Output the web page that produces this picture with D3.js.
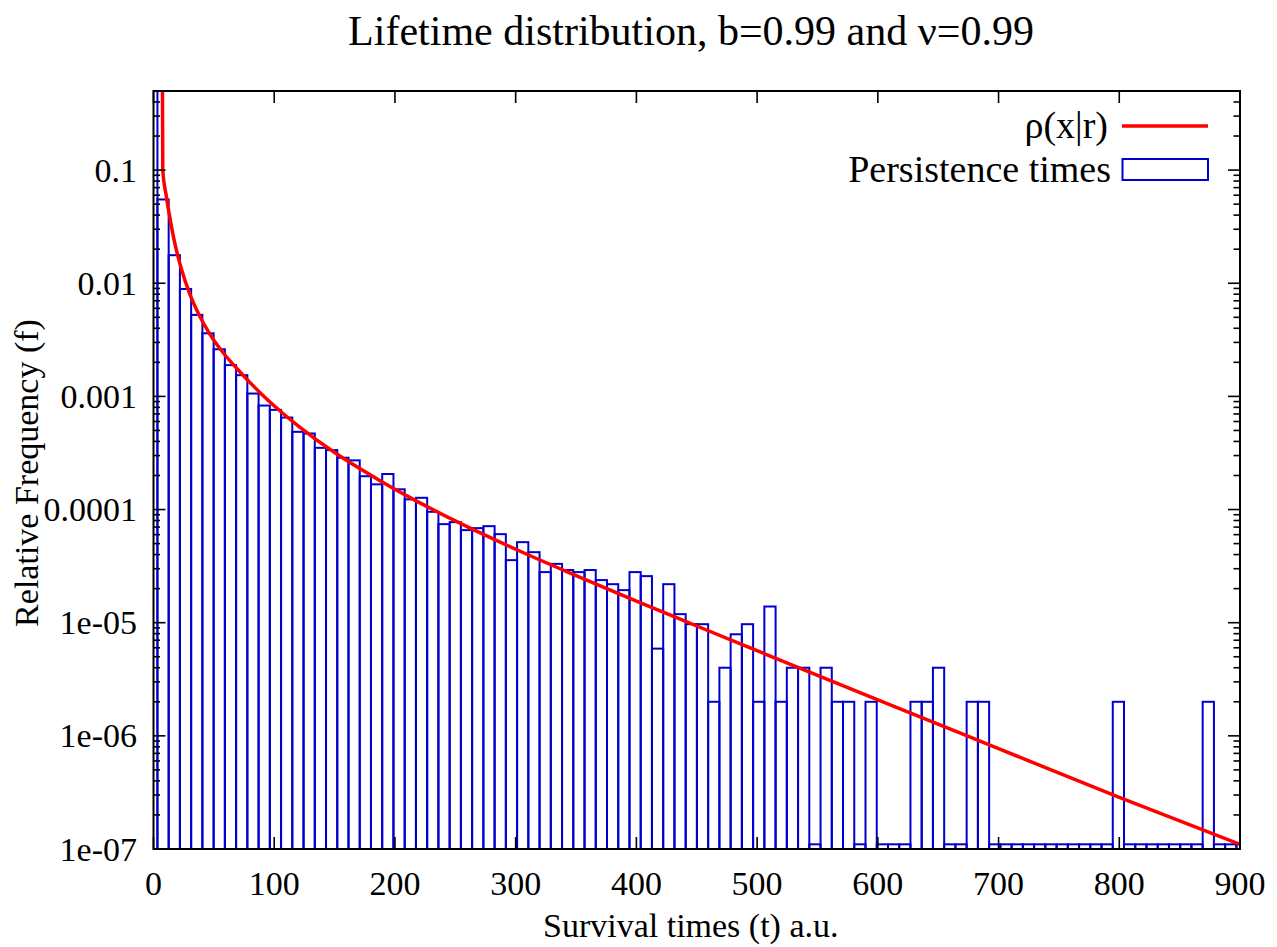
<!DOCTYPE html>
<html>
<head>
<meta charset="utf-8">
<script src="https://cdn.jsdelivr.net/npm/d3@7"></script>
<style>
  html, body { margin: 0; padding: 0; background: #fff; }
  svg { display: block; }
  text { font-family: "Liberation Serif", "Times New Roman", serif; fill: #000; }
</style>
</head>
<body>
<svg id="chart" width="1277" height="947"></svg>
<script>
// ---------------- data ----------------
const titleText = "Lifetime distribution, b=0.99 and \u03bd=0.99";
const xLabelText = "Survival times (t) a.u.";
const yLabelText = "Relative Frequency (f)";
const seriesNames = ["\u03c1(x|r)", "Persistence times"];

const xTicks = [0, 100, 200, 300, 400, 500, 600, 700, 800, 900];
const yTicks = [1e-7, 1e-6, 1e-5, 1e-4, 1e-3, 1e-2, 1e-1];
const yTickLabels = ["1e-07", "1e-06", "1e-05", "0.0001", "0.001", "0.01", "0.1"];

// histogram: bin width and centre of the first bin (survival time units)
const binWidth = 9.31;
const firstBinCenter = -1.4;
// relative frequency of each bin
const histValues = [
  0.9, 0.055, 0.0177, 0.0089, 0.00525, 0.00361, 0.00261, 0.00189, 0.00154, 0.00106,
  0.00083, 0.00076, 0.00065, 0.000486, 0.00047, 0.000351, 0.000335, 0.000287, 0.000272, 0.000197,
  0.000167, 0.000206, 0.000151, 0.000123, 0.000127, 0.0000955, 0.0000743, 0.0000774, 0.0000658, 0.0000685,
  0.0000713, 0.0000606, 0.0000357, 0.0000515, 0.000042, 0.000028, 0.0000331, 0.0000292, 0.000028, 0.0000292,
  0.0000238, 0.0000219, 0.0000194, 0.000028, 0.0000258, 0.0000059, 0.0000219, 0.0000119, 0.0000097, 0.0000097,
  0.000002, 0.000004, 0.0000079, 0.0000097, 0.000002, 0.0000139, 0.000002, 0.000004, 0.000004, 1.1e-7,
  0.000004, 0.000002, 0.000002, 1.1e-7, 0.000002, 1.1e-7, 1.1e-7, 1.1e-7, 0.000002, 0.000002,
  0.000004, 1.1e-7, 1.1e-7, 0.000002, 0.000002, 1.1e-7, 1.1e-7, 1.1e-7, 1.1e-7, 1.1e-7,
  1.1e-7, 1.1e-7, 1.1e-7, 1.1e-7, 1.1e-7, 1.1e-7, 0.000002, 1.1e-7, 1.1e-7, 1.1e-7,
  1.1e-7, 1.1e-7, 1.1e-7, 1.1e-7, 0.000002, 1.1e-7, 1.1e-7, 1.1e-7
];

// fitted density rho(x|r)
const curveX = [7.3, 7.7, 10.5, 14.7, 17.4, 23.0, 29.8, 38.1, 46.4, 57.4,
  71.3, 88.3, 104.4, 120, 150, 187.3, 214.9, 250, 300, 350,
  400, 450, 500, 600, 700, 800, 900];
const curveY = [1.0, 0.1, 0.0598, 0.0325, 0.0232, 0.01349, 0.00817, 0.00516, 0.00359, 0.002455,
  0.00166, 0.001079, 0.00075, 0.000547, 0.000319, 0.000181, 0.0001236, 0.0000793, 0.0000446, 0.0000261,
  0.0000155, 0.00000935, 0.00000566, 0.00000208, 7.71e-7, 2.86e-7, 1.1e-7];

// ---------------- layout ----------------
const plot = { left: 153.5, right: 1240, top: 91, bottom: 849 };
const svg = d3.select("#chart");

const x = d3.scaleLinear().domain([0, 900]).range([plot.left, plot.right]);
const y = d3.scaleLog().domain([1e-7, 0.5]).range([plot.bottom, plot.top]);

const blue = "#0000cc";
const red = "#ff0000";
const labelFont = 34;

svg.append("defs").append("clipPath").attr("id", "clip")
  .append("rect")
  .attr("x", plot.left).attr("y", plot.top)
  .attr("width", plot.right - plot.left).attr("height", plot.bottom - plot.top);

const plotG = svg.append("g").attr("clip-path", "url(#clip)");

// histogram boxes
const bins = histValues.map((v, i) => ({ c: firstBinCenter + i * binWidth, v }));
plotG.selectAll("rect.bin").data(bins).enter().append("rect")
  .attr("class", "bin")
  .attr("x", d => x(d.c - binWidth / 2))
  .attr("width", d => x(d.c + binWidth / 2) - x(d.c - binWidth / 2))
  .attr("y", d => y(d.v))
  .attr("height", d => y(1e-7) - y(d.v) + 2)
  .attr("fill", "none")
  .attr("stroke", blue)
  .attr("stroke-width", 2);

// density curve
const pts = curveX.map((cx, i) => [cx, curveY[i]]);
plotG.append("path")
  .datum(pts)
  .attr("fill", "none")
  .attr("stroke", red)
  .attr("stroke-width", 3.5)
  .attr("stroke-linejoin", "round")
  .attr("d", d3.line().x(d => x(d[0])).y(d => y(d[1])).curve(d3.curveMonotoneX));

// ---------------- axes (gnuplot style: inward ticks, mirrored) ----------------
const axG = svg.append("g").attr("stroke", "#000").attr("stroke-width", 1.6);
const majorLen = 12, minorLen = 6.5;

const minorY = [];
for (let e = -7; e <= -1; e++) {
  for (let m = 2; m <= 9; m++) {
    const v = m * Math.pow(10, e);
    if (v <= 0.5) minorY.push(v);
  }
}
yTicks.forEach(v => {
  axG.append("line").attr("x1", plot.left).attr("x2", plot.left + majorLen).attr("y1", y(v)).attr("y2", y(v));
  axG.append("line").attr("x1", plot.right).attr("x2", plot.right - majorLen).attr("y1", y(v)).attr("y2", y(v));
});
minorY.forEach(v => {
  axG.append("line").attr("x1", plot.left).attr("x2", plot.left + minorLen).attr("y1", y(v)).attr("y2", y(v));
  axG.append("line").attr("x1", plot.right).attr("x2", plot.right - minorLen).attr("y1", y(v)).attr("y2", y(v));
});
xTicks.forEach(v => {
  axG.append("line").attr("x1", x(v)).attr("x2", x(v)).attr("y1", plot.bottom).attr("y2", plot.bottom - majorLen);
  axG.append("line").attr("x1", x(v)).attr("x2", x(v)).attr("y1", plot.top).attr("y2", plot.top + majorLen);
});

// border
svg.append("rect")
  .attr("x", plot.left).attr("y", plot.top)
  .attr("width", plot.right - plot.left).attr("height", plot.bottom - plot.top)
  .attr("fill", "none").attr("stroke", "#000").attr("stroke-width", 2);

// tick labels
svg.append("g").selectAll("text").data(yTicks).enter().append("text")
  .attr("x", 137)
  .attr("y", d => y(d) + 11.5)
  .attr("text-anchor", "end")
  .attr("font-size", labelFont)
  .text((d, i) => yTickLabels[i]);

svg.append("g").selectAll("text").data(xTicks).enter().append("text")
  .attr("x", d => x(d))
  .attr("y", 895)
  .attr("text-anchor", "middle")
  .attr("font-size", labelFont)
  .text(d => String(d));

// axis titles
svg.append("text")
  .attr("x", (plot.left + plot.right) / 2 - 6)
  .attr("y", 937)
  .attr("text-anchor", "middle")
  .attr("font-size", labelFont)
  .text(xLabelText);

svg.append("text")
  .attr("transform", "translate(38,473) rotate(-90)")
  .attr("text-anchor", "middle")
  .attr("font-size", labelFont)
  .text(yLabelText);

svg.append("text")
  .attr("x", 691)
  .attr("y", 45)
  .attr("text-anchor", "middle")
  .attr("font-size", 42)
  .text(titleText);

// legend
const leg = svg.append("g");
leg.append("text").attr("x", 1108).attr("y", 138).attr("text-anchor", "end")
  .attr("font-size", 38).text(seriesNames[0]);
leg.append("line").attr("x1", 1122).attr("x2", 1208).attr("y1", 126).attr("y2", 126)
  .attr("stroke", red).attr("stroke-width", 3.5);
leg.append("text").attr("x", 1111).attr("y", 182).attr("text-anchor", "end")
  .attr("font-size", 38).text(seriesNames[1]);
leg.append("rect").attr("x", 1122.5).attr("y", 159).attr("width", 85.5).attr("height", 21)
  .attr("fill", "none").attr("stroke", blue).attr("stroke-width", 2);
</script>
</body>
</html>
